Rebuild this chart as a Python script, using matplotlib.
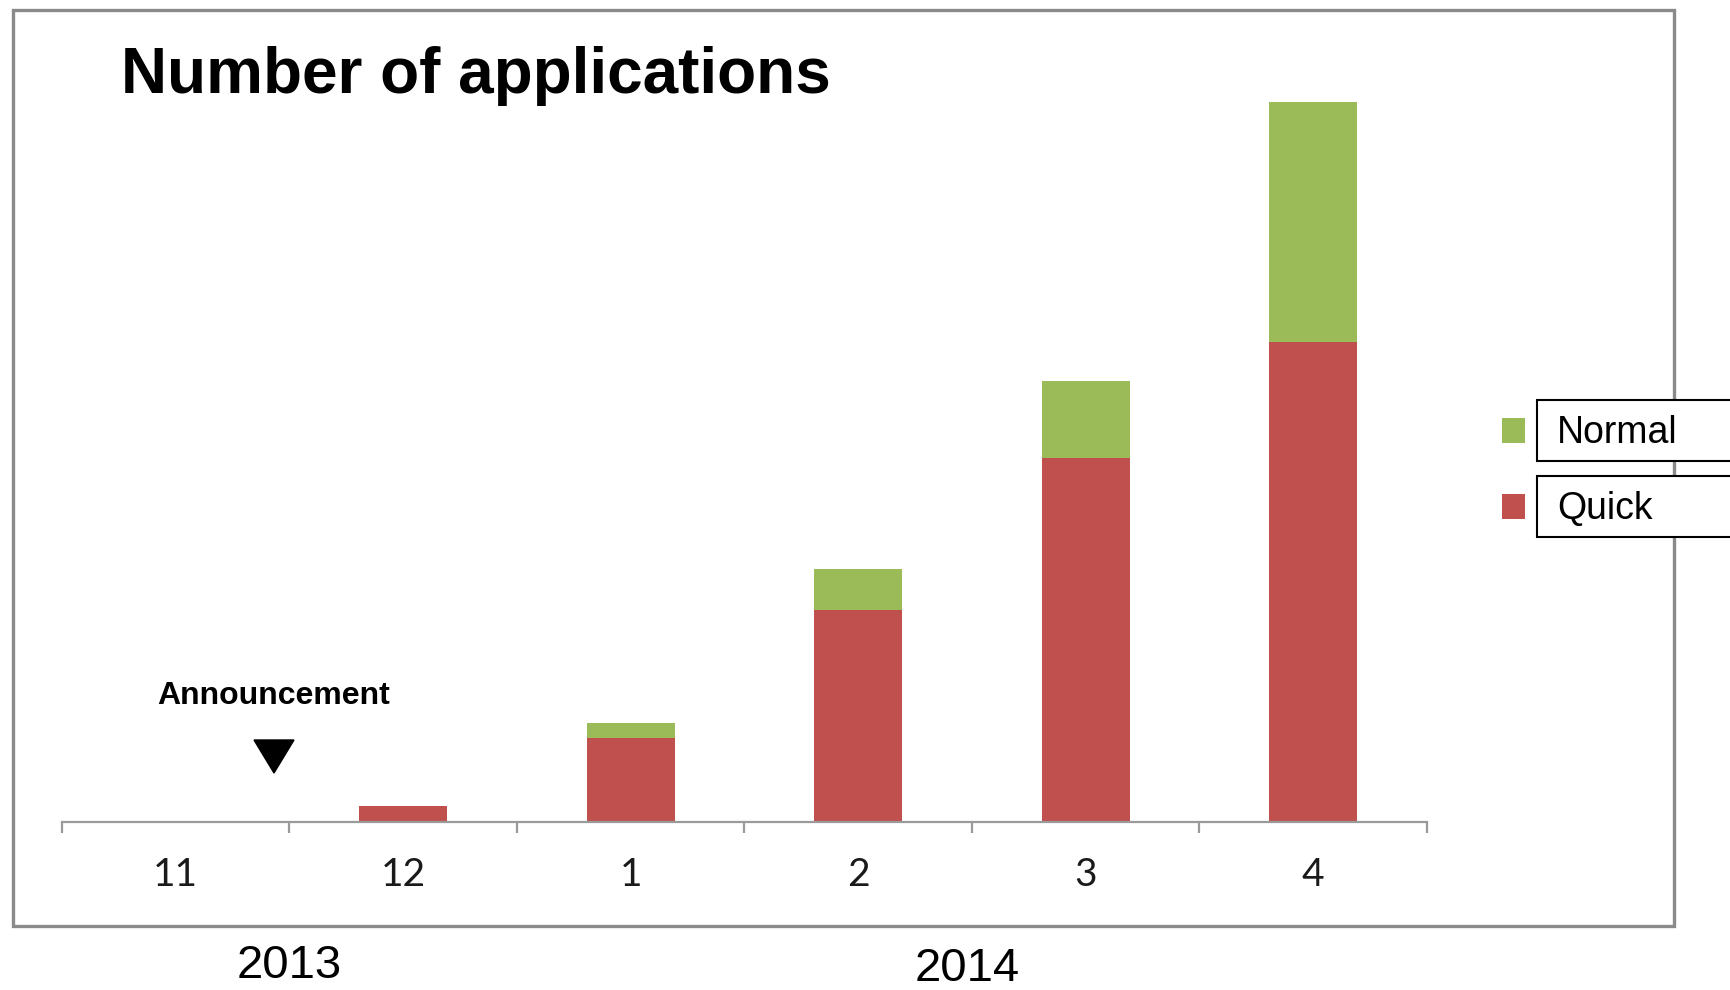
import matplotlib
matplotlib.use("Agg")
import matplotlib.pyplot as plt
from matplotlib.patches import Rectangle
from matplotlib.transforms import blended_transform_factory

# data (applications per month)
months = ["11", "12", "1", "2", "3", "4"]
quick = [0, 16, 84, 212, 364, 480]
normal = [0, 0, 15, 41, 77, 240]
years = ["2013", "2014"]
year_pos = [0.5, 3.5]  # position along the month axis

RED = "#C0504D"
GREEN = "#9BBB59"
W, H = 1731, 990

plt.rcParams["font.family"] = ["Liberation Sans", "DejaVu Sans"]

fig = plt.figure(figsize=(W / 100, H / 100), dpi=100)


def fx(x):
    return x / W


def fy(y):
    return 1 - y / H


ax = fig.add_axes([fx(62), fy(822), fx(1427) - fx(62), fy(102) - fy(822)])

x = range(len(months))
ax.bar(x, quick, width=0.387, color=RED, label="Quick")
ax.bar(x, normal, width=0.387, bottom=quick, color=GREEN, label="Normal")

ax.set_xlim(-0.5, len(months) - 0.5)
ax.set_ylim(0, 720)
for s in ["top", "right", "left"]:
    ax.spines[s].set_visible(False)
ax.spines["bottom"].set_color("#9a9a9a")
ax.spines["bottom"].set_linewidth(1.6)
ax.set_yticks([])

ax.set_xticks([i - 0.5 for i in range(len(months) + 1)])
ax.set_xticklabels([])
ax.tick_params(axis="x", which="major", length=8, width=1.6, color="#9a9a9a", direction="out")
ax.set_xticks(list(x), minor=True)
ax.set_xticklabels(months, minor=True, fontfamily="Lato", fontsize=28, color="#1a1a1a")
ax.tick_params(axis="x", which="minor", length=0, pad=25)

# years under the month axis
tr = blended_transform_factory(ax.transData, fig.transFigure)
fig.text(year_pos[0], fy(966), years[0], transform=tr, ha="center", va="center", fontsize=34)
fig.text(year_pos[1] - 0.02, fy(969), years[1], transform=tr, ha="center", va="center", fontsize=34)

# title
fig.text(fx(121), fy(93), "Number of applications", fontsize=46, fontweight="bold",
         ha="left", va="baseline")

# announcement marker
fig.text(fx(274), fy(704), "Announcement", fontsize=23, fontweight="bold",
         ha="center", va="baseline")
fig.patches.append(plt.Polygon([(fx(254), fy(740)), (fx(294), fy(740)), (fx(274), fy(773))],
                               closed=True, color="black", transform=fig.transFigure))

# outer frame
fig.patches.append(Rectangle((fx(13), fy(926)), fx(1674) - fx(13), fy(10) - fy(926),
                             fill=False, edgecolor="#8a8a8a", linewidth=2.4,
                             transform=fig.transFigure, zorder=1))

# legend drawn by hand (boxes run off the right edge)
for label, col, top in [("Normal", GREEN, 400), ("Quick", RED, 476)]:
    fig.patches.append(Rectangle((fx(1537), fy(top + 61)), fx(260), fy(top) - fy(top + 61),
                                 facecolor="white", edgecolor="black", linewidth=1.5,
                                 transform=fig.transFigure, zorder=2))
    fig.patches.append(Rectangle((fx(1502), fy(top + 43)), fx(23), fy(top + 18) - fy(top + 43),
                                 facecolor=col, edgecolor="none",
                                 transform=fig.transFigure, zorder=2))
    fig.text(fx(1557), fy(top + 43), label, fontsize=27, ha="left", va="baseline", zorder=3)

fig.savefig("out.png", dpi=100, facecolor="white")
